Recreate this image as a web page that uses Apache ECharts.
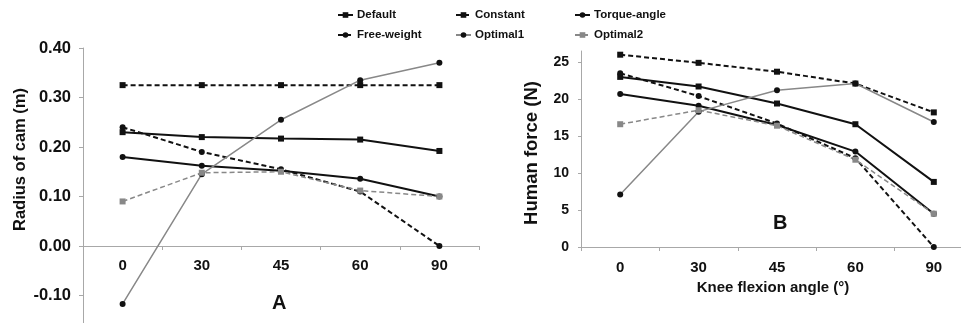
<!DOCTYPE html>
<html>
<head>
<meta charset="utf-8">
<script src="https://cdn.jsdelivr.net/npm/echarts@6/dist/echarts.min.js"></script>
<style>
  html, body { margin: 0; padding: 0; background: #fff; }
  #container { width: 961px; height: 323px; }
</style>
</head>
<body>
<div id="container"></div>
<script>
// knee flexion angles
var angles = ['0', '30', '45', '60', '90'];

// A: radius of cam (m)
var radiusDefault     = [0.230, 0.220, 0.217, 0.215, 0.192];
var radiusConstant    = [0.325, 0.325, 0.325, 0.325, 0.325];
var radiusTorque      = [0.180, 0.162, 0.152, 0.136, 0.100];
var radiusFreeWeight  = [0.240, 0.190, 0.155, 0.110, 0.000];
var radiusOptimal1    = [-0.117, 0.145, 0.255, 0.335, 0.370];
var radiusOptimal2    = [0.090, 0.148, 0.150, 0.112, 0.100];

// B: human force (N)
var forceDefault    = [23.0, 21.7, 19.4, 16.6, 8.8];
var forceConstant   = [26.0, 24.9, 23.7, 22.1, 18.2];
var forceTorque     = [20.7, 19.1, 16.5, 12.9, 4.5];
var forceFreeWeight = [23.5, 20.4, 16.7, 12.0, 0.0];
var forceOptimal1   = [7.1, 18.3, 21.2, 22.1, 16.9];
var forceOptimal2   = [16.6, 18.5, 16.4, 11.8, 4.5];

var font = 'Liberation Sans, Arial, sans-serif';
var axisGray = '#a8a8a8';

// style of each legend entry
var styles = {
  'Default':      { color: '#111', sym: 'rect',   dash: 'solid',  width: 2,   symColor: '#111' },
  'Constant':     { color: '#111', sym: 'rect',   dash: [5, 3],   width: 2,   symColor: '#111' },
  'Torque-angle': { color: '#111', sym: 'circle', dash: 'solid',  width: 2,   symColor: '#111' },
  'Free-weight':  { color: '#111', sym: 'circle', dash: [5, 3],   width: 2,   symColor: '#111' },
  'Optimal1':     { color: '#888', sym: 'circle', dash: 'solid',  width: 1.5, symColor: '#111' },
  'Optimal2':     { color: '#888', sym: 'rect',   dash: [5, 3],   width: 1.5, symColor: '#888' }
};

function mkSeries(name, data, idx) {
  var s = styles[name];
  return {
    name: name,
    type: 'line',
    xAxisIndex: idx,
    yAxisIndex: idx,
    data: data,
    symbol: s.sym,
    symbolSize: 6,
    showAllSymbol: true,
    lineStyle: { color: s.color, width: s.width, type: s.dash },
    itemStyle: { color: s.symColor },
    emphasis: { disabled: true },
    animation: false
  };
}

// one legend box per entry, laid out in a 3 x 2 table
var legendNames = [['Default', 'Constant', 'Torque-angle'], ['Free-weight', 'Optimal1', 'Optimal2']];
var legendCols = [337, 455, 574];
var legendRows = [9, 29];
var legends = [];
legendNames.forEach(function (row, r) {
  row.forEach(function (name, c) {
    legends.push({
      data: [name], left: legendCols[c], top: legendRows[r],
      itemWidth: 15, itemHeight: 7, itemGap: 5, padding: 0, selectedMode: false,
      textStyle: { fontFamily: font, fontWeight: 'bold', fontSize: 11.5, color: '#111', padding: [0, 0, 0, -1] }
    });
  });
});

// panel A: 0.40 at y=48, 0.00 at y=246 -> 495 px per unit; min -0.2 runs past the bottom edge
var option = {
  backgroundColor: '#fff',
  animation: false,
  legend: legends,
  title: [
    { text: 'A', left: 267, top: 288, textStyle: { fontFamily: font, fontWeight: 'bold', fontSize: 20, color: '#111' } },
    { text: 'B', left: 768, top: 208, textStyle: { fontFamily: font, fontWeight: 'bold', fontSize: 20, color: '#111' } }
  ],
  grid: [
    { left: 83, top: 48, width: 396, bottom: -22, outerBoundsMode: 'none' },
    { left: 581, top: 51, width: 392, bottom: 76, outerBoundsMode: 'none' }
  ],
  xAxis: [
    {
      gridIndex: 0, type: 'category', data: angles, boundaryGap: true,
      offset: -99,
      axisLine: { onZero: false, lineStyle: { color: axisGray, width: 1 } },
      axisTick: { show: true, length: 4, lineStyle: { color: axisGray } },
      axisLabel: { fontFamily: font, fontWeight: 'bold', fontSize: 15, color: '#111', margin: 12 }
    },
    {
      gridIndex: 1, type: 'category', data: angles, boundaryGap: true,
      name: 'Knee flexion angle (°)', nameLocation: 'middle', nameGap: 33,
      nameTextStyle: { fontFamily: font, fontWeight: 'bold', fontSize: 15, color: '#111', padding: [0, 8, 0, 0] },
      axisLine: { lineStyle: { color: axisGray, width: 1 } },
      axisTick: { show: true, length: 4, lineStyle: { color: axisGray } },
      axisLabel: { fontFamily: font, fontWeight: 'bold', fontSize: 15, color: '#111', margin: 13 }
    }
  ],
  yAxis: [
    {
      gridIndex: 0, type: 'value', min: -0.2, max: 0.4, interval: 0.1,
      name: 'Radius of cam (m)', nameLocation: 'middle', nameGap: 54,
      nameTextStyle: { fontFamily: font, fontWeight: 'bold', fontSize: 16.5, color: '#111', padding: [0, 0, 0, 74] },
      splitLine: { show: false },
      axisLine: { show: true, lineStyle: { color: axisGray, width: 1 } },
      axisTick: { show: true, length: 4, lineStyle: { color: axisGray } },
      axisLabel: {
        fontFamily: font, fontWeight: 'bold', fontSize: 16.5, color: '#111', margin: 12,
        formatter: function (v) { return v.toFixed(2); }
      }
    },
    {
      gridIndex: 1, type: 'value', min: 0, max: 26.5, interval: 5,
      name: 'Human force (N)', nameLocation: 'middle', nameGap: 40,
      nameTextStyle: { fontFamily: font, fontWeight: 'bold', fontSize: 18.5, color: '#111', padding: [0, 8, 0, 0] },
      splitLine: { show: false },
      axisLine: { show: true, lineStyle: { color: axisGray, width: 1 } },
      axisTick: { show: true, length: 3, lineStyle: { color: axisGray } },
      axisLabel: { fontFamily: font, fontWeight: 'bold', fontSize: 14, color: '#111', margin: 12, showMaxLabel: false }
    }
  ],
  series: [
    mkSeries('Default', radiusDefault, 0),
    mkSeries('Constant', radiusConstant, 0),
    mkSeries('Torque-angle', radiusTorque, 0),
    mkSeries('Free-weight', radiusFreeWeight, 0),
    mkSeries('Optimal1', radiusOptimal1, 0),
    mkSeries('Optimal2', radiusOptimal2, 0),
    mkSeries('Default', forceDefault, 1),
    mkSeries('Constant', forceConstant, 1),
    mkSeries('Torque-angle', forceTorque, 1),
    mkSeries('Free-weight', forceFreeWeight, 1),
    mkSeries('Optimal1', forceOptimal1, 1),
    mkSeries('Optimal2', forceOptimal2, 1)
  ]
};

var myChart = echarts.init(document.getElementById('container'));
myChart.setOption(option);
</script>
</body>
</html>
